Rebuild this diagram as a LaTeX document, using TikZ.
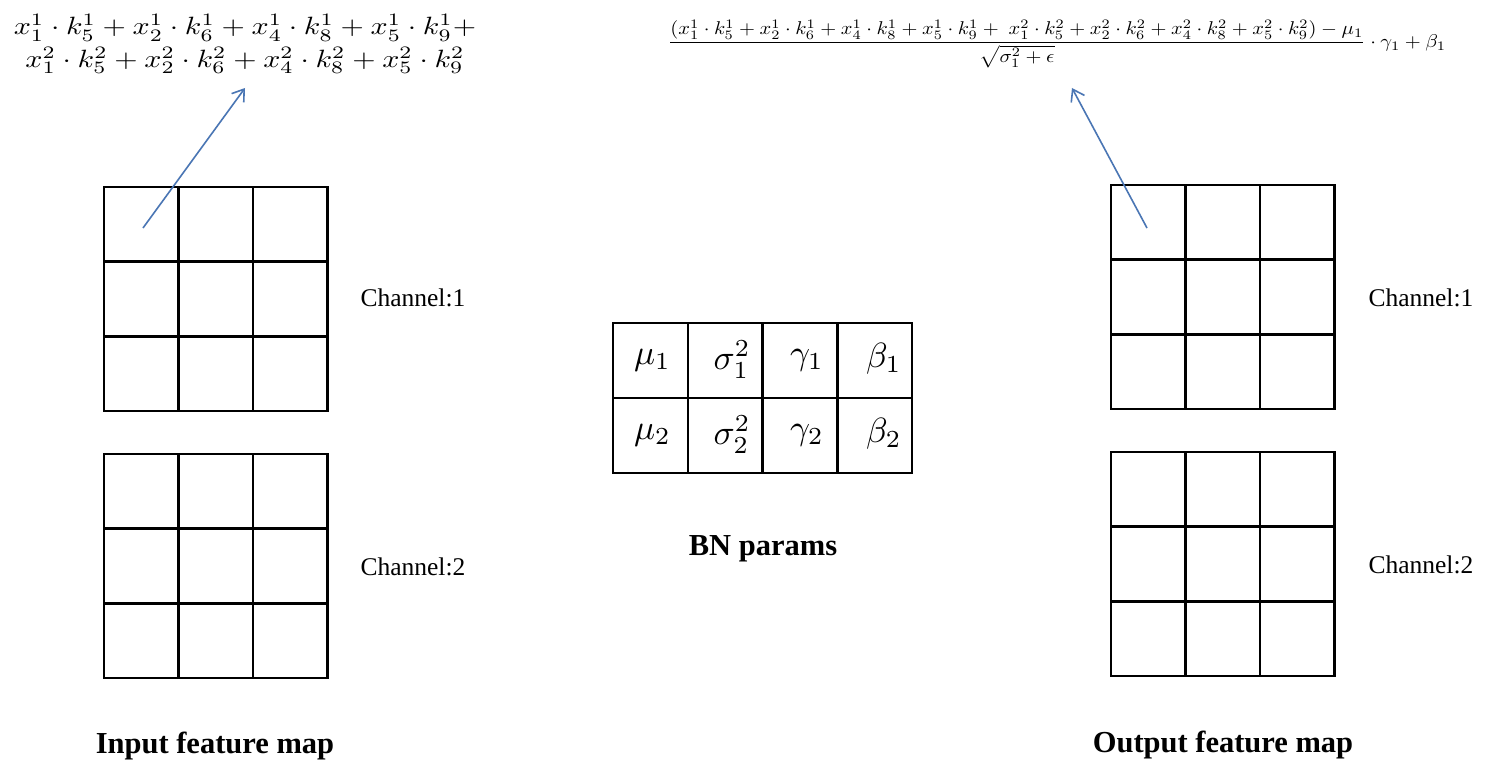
\documentclass[tikz,border=0pt]{standalone}
\usepackage{amsmath}
\usepackage{fontspec}
\setmainfont{Liberation Serif}
\usetikzlibrary{arrows.meta,calc}
\definecolor{arrowblue}{RGB}{74,118,180}
\tikzset{
  cell/.style={draw=black, line width=2.6pt, minimum width=74.5pt, minimum height=74.7pt, inner sep=0pt, outer sep=0pt, anchor=north west},
  bncell/.style={draw=black, line width=2.4pt, minimum width=74.8pt, minimum height=75pt, inner sep=0pt, outer sep=0pt, anchor=north west},
  bntext/.style={scale=3.5, transform shape, inner sep=0pt},
  chlabel/.style={anchor=west, font=\fontsize{25.5}{28}\selectfont},
  title/.style={font=\fontsize{30.5}{34}\selectfont\bfseries},
  pointer/.style={draw=arrowblue, line width=1.6pt, -{Straight Barb[length=11pt,width=15pt,line width=1.6pt]}},
}
\begin{document}
\begin{tikzpicture}[x=1pt,y=-1pt]
\useasboundingbox (0,0) rectangle (1500,768);
\fill[white] (0,0) rectangle (1500,768);

% grids
\foreach \name/\x/\y in {inA/104/187, inB/104/454, outA/1111/185, outB/1111/452}{
  \foreach \r in {1,2,3}{
    \foreach \c in {1,2,3}{
      \node[cell] (\name-\r-\c) at ({\x+(\c-1)*74.5},{\y+(\r-1)*74.7}) {};
    }
  }
}

% channel labels
\node[chlabel] (lc1) at (357,298) {Channel:1};
\node[chlabel] (lc2) at (357,567) {Channel:2};
\node[chlabel] (rc1) at (1365,298) {Channel:1};
\node[chlabel] (rc2) at (1365,565) {Channel:2};

% BN table
\foreach \r/\row in {1/{$\mu_1$,$\sigma_1^2$,$\gamma_1$,$\beta_1$}, 2/{$\mu_2$,$\sigma_2^2$,$\gamma_2$,$\beta_2$}}{
  \foreach \t/\dx [count=\c] in \row {
    \node[bncell] (bn-\r-\c) at ({613+(\c-1)*74.8},{323+(\r-1)*75}) {};
  }
}
\foreach \r/\s in {1/1,2/2}{
  \node[bntext] (bnt-\r-1) at ($(bn-\r-1.center)+(2,0)$) {$\mu_\s$};
  \node[bntext] (bnt-\r-2) at ($(bn-\r-2.center)+(7,-1)$) {$\sigma_\s^2$};
  \node[bntext] (bnt-\r-3) at ($(bn-\r-3.center)+(7,0)$) {$\gamma_\s$};
  \node[bntext] (bnt-\r-4) at ($(bn-\r-4.center)+(9,-2)$) {$\beta_\s$};
}
\node[title] (bnp) at (763,549) {BN params};

% titles
\node[title] (inT) at (215,746) {Input feature map};
\node[title] (outT) at (1223,745) {Output feature map};

% formulas
\node[align=center, xscale=3.0, yscale=2.5, transform shape, inner sep=0pt] (fl) at (245,44)
 {$x_1^1\cdot k_5^1+x_2^1\cdot k_6^1+x_4^1\cdot k_8^1+x_5^1\cdot k_9^1+$\\[1pt]
  $x_1^2\cdot k_5^2+x_2^2\cdot k_6^2+x_4^2\cdot k_8^2+x_5^2\cdot k_9^2$};

\node[xscale=2.05, yscale=1.85, transform shape, inner sep=0pt] (fr) at (1057,44)
 {$\dfrac{(x_1^1\cdot k_5^1+x_2^1\cdot k_6^1+x_4^1\cdot k_8^1+x_5^1\cdot k_9^1+\ x_1^2\cdot k_5^2+x_2^2\cdot k_6^2+x_4^2\cdot k_8^2+x_5^2\cdot k_9^2)-\mu_1}{\sqrt{\sigma_1^2+\epsilon}}\cdot\gamma_1+\beta_1$};

% pointers
\coordinate (lt) at (143,228);
\coordinate (lh) at (245,88);
\coordinate (rt) at (1147,228);
\coordinate (rh) at (1072,88);
\draw[pointer] (lt) -- (lh);
\draw[pointer] (rt) -- (rh);
\end{tikzpicture}
\end{document}
